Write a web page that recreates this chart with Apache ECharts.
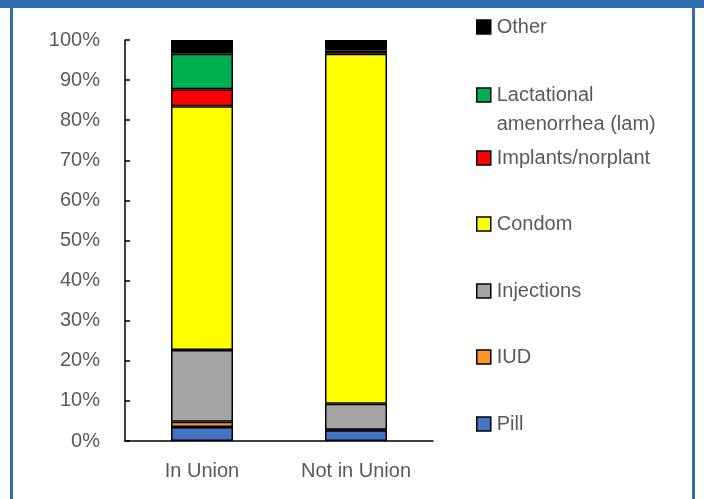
<!DOCTYPE html>
<html><head><meta charset="utf-8">
<script src="https://cdn.jsdelivr.net/npm/echarts@6/dist/echarts.min.js"></script>
<style>html,body{margin:0;padding:0;background:#fff;}#c{width:704px;height:499px;}</style>
</head><body><div id="c"></div>
<script>
const categories = ['In Union', 'Not in Union'];
const seriesNames = ['Pill', 'IUD', 'Injections', 'Condom', 'Implants/norplant', 'Lactational amenorrhea (lam)', 'Other'];
const pill = [3.5, 2.7];
const iud = [1.3, 0.1];
const injections = [17.9, 6.5];
const condom = [60.8, 87.3];
const implants = [4.2, 0.8];
const lam = [8.9, 0.6];
const other = [3.4, 2.0];
const yTicks = [0, 10, 20, 30, 40, 50, 60, 70, 80, 90, 100];

const values = [pill, iud, injections, condom, implants, lam, other];
const colors = ['#4472C4', '#FF9326', '#A5A5A5', '#FFFF00', '#FF0000', '#00B050', '#000000'];
const legendTops = [412, 345, 279, 212, 146, 51.5, 15];
const FONT = 'Liberation Sans';
const TXT = '#595959';

const chart = echarts.init(document.getElementById('c'), null, {renderer: 'canvas'});
const legends = seriesNames.map((n, i) => ({
  data: [n], left: 476, top: legendTops[i], orient: 'vertical', padding: 0,
  icon: 'rect', itemWidth: 14, itemHeight: 14, itemGap: 0,
  selectedMode: false,
  itemStyle: {borderColor: '#000', borderWidth: 1.5},
  formatter: n === 'Lactational amenorrhea (lam)' ? () => '\nLactational\namenorrhea (lam)' : undefined,
  textStyle: {fontFamily: FONT, fontSize: 20, color: TXT, lineHeight: n === 'Lactational amenorrhea (lam)' ? 29 : 24, padding: [0, 0, 0, 1]}
}));
chart.setOption({
  animation: false,
  backgroundColor: '#fff',
  graphic: [
    {type: 'rect', shape: {x: 0, y: 0, width: 704, height: 8}, style: {fill: '#2E6DB0'}, silent: true},
    {type: 'rect', shape: {x: 10, y: 0, width: 3, height: 499}, style: {fill: '#2E6DB0'}, silent: true},
    {type: 'rect', shape: {x: 692, y: 0, width: 3, height: 499}, style: {fill: '#2E6DB0'}, silent: true}
  ],
  legend: legends,
  grid: {left: 125, right: 271, top: 40, bottom: 58, containLabel: false},
  xAxis: {
    type: 'category', data: categories,
    axisLine: {lineStyle: {color: '#000', width: 1.5}},
    axisTick: {inside: true, length: 5, lineStyle: {color: '#000', width: 1.5}},
    axisLabel: {fontFamily: FONT, fontSize: 20, color: TXT, margin: 20}
  },
  yAxis: {
    type: 'value', min: 0, max: 100, interval: 10,
    axisLine: {show: true, lineStyle: {color: '#000', width: 1.5}},
    axisTick: {show: true, inside: true, length: 5, lineStyle: {color: '#000', width: 1.5}},
    splitLine: {show: false},
    axisLabel: {fontFamily: FONT, fontSize: 20, color: TXT, margin: 25, formatter: v => yTicks.includes(v) ? v + '%' : ''}
  },
  series: seriesNames.map((n, i) => ({
    name: n, type: 'bar', stack: 'total', data: values[i], barWidth: 62,
    itemStyle: {color: colors[i], borderColor: '#000', borderWidth: 1.5}
  }))
});
</script></body></html>
